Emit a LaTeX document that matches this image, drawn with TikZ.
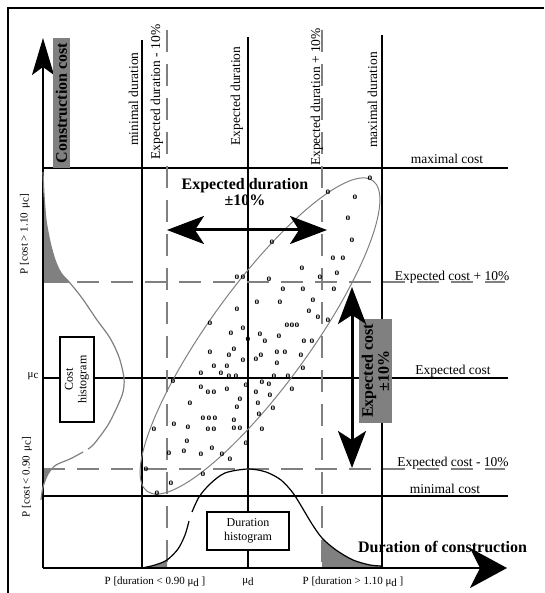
\documentclass[tikz,border=0pt]{standalone}
\usepackage{fontspec}
\setmainfont{Liberation Serif}
\usetikzlibrary{positioning,arrows.meta}
\tikzset{
  lbl/.style={font=\fontsize{13.5}{15}\selectfont, inner sep=0pt},
  small lbl/.style={font=\fontsize{11}{12}\selectfont, inner sep=0pt},
  big lbl/.style={font=\fontsize{16}{16}\selectfont\bfseries, inner sep=0pt},
  grid line/.style={line width=1.2pt},
  dash line/.style={gray, line width=1.2pt, dash pattern=on 22pt off 12pt},
  hist box/.style={draw, fill=white, line width=1.2pt, font=\fontsize{12}{13.5}\selectfont, align=center},
  dot/.style={font=\fontsize{9.5}{9.5}\selectfont\bfseries, inner sep=0pt},
  big arrow/.style={line width=3pt, {Stealth[length=37pt,width=28pt,inset=9pt]}-{Stealth[length=37pt,width=28pt,inset=9pt]}}
}
\begin{document}
\begin{tikzpicture}[x=1pt, y=-1pt]
  \useasboundingbox (0,0) rectangle (544,593);
  \draw[line width=2pt] (8,593) -- (8,8) -- (544,8);

  % tails of the two histograms
  \begin{scope}
    \clip (43,160) rectangle (120,282);
    \fill[gray] plot[smooth] coordinates {(43,172) (44,195) (46,220) (50,242) (55,260) (61,273) (70,283) (82,298)} -- (43,298) -- cycle;
  \end{scope}
  \begin{scope}
    \clip (43,469) rectangle (100,500);
    \fill[gray] plot[smooth] coordinates {(83,452) (70,459) (56,465) (48,474) (43,487) (41,500)} -- (43,452) -- cycle;
  \end{scope}
  \begin{scope}
    \clip (142,530) rectangle (167,570);
    \fill[gray] plot[smooth] coordinates {(142,568) (155,565) (167,560) (178,549) (185,535) (189,521)} -- (189,568) -- cycle;
  \end{scope}
  \begin{scope}
    \clip (322,460) rectangle (382,570);
    \fill[gray] plot[smooth] coordinates {(192,512) (199,497) (210,484) (225,473) (248,469) (266,472) (281,480) (293,493) (303,509) (312,524) (322,538) (336,550) (353,560) (370,565) (382,566)} -- (382,568) -- (192,568) -- cycle;
  \end{scope}

  % cost and duration levels
  \foreach \x/\top in {142/40, 248/37, 382/35}
    \draw[grid line] (\x,\top) -- (\x,568);
  \foreach \y in {168, 378, 496}
    \draw[grid line] (43,\y) -- (508,\y);
  \foreach \x in {167, 322}
    \draw[dash line] (\x,30) -- (\x,568);
  \foreach \y in {282, 469}
    \draw[dash line] (43,\y) -- (505,\y);

  % axes
  \coordinate (O) at (43,568);
  \coordinate (ytip) at (43,38);
  \coordinate (xtip) at (507,568);
  \draw[line width=1.5pt, -{Stealth[length=37pt,width=22pt,inset=8pt]}] (O) -- (ytip);
  \draw[line width=1.5pt, -{Stealth[length=37pt,width=40pt,inset=10pt]}] (O) -- (xtip);

  % histograms
  \draw[gray, line width=1.2pt] plot[smooth] coordinates {(43,172) (44,195) (46,220) (50,242) (55,260) (61,273) (70,283) (82,298) (97,320) (110,338) (119,357) (124,378) (123,392) (118,405) (108,425) (94,444) (88,449)};
  \draw[gray, line width=1.2pt] plot[smooth] coordinates {(83,452) (70,459) (56,465) (48,474) (43,487) (41,500)};
  \draw[line width=1.2pt] plot[smooth] coordinates {(142,568) (155,565) (167,560) (178,549) (185,535) (189,521)};
  \draw[line width=1.2pt] plot[smooth] coordinates {(192,512) (199,497) (210,484) (225,473) (248,469) (266,472) (281,480) (293,493) (303,509) (312,524) (322,538) (336,550) (353,560) (370,565) (382,566)};

  % scatter
  \draw[gray, line width=1pt, rotate around={54:(260,336)}] (260,336) ellipse [x radius=192, y radius=50];
  \foreach \p [count=\i] in {(370,178),(328,192),(355,197),(348,218),(352,240),(272,242),(333,258),(343,258),(302,268),(337,273),(320,277),(237,277),(243,277),(269,279),(283,289),(303,289),(334,289),
    (257,302),(280,302),(313,300),(237,309),(309,311),(318,317),(328,320),(210,323),(287,325),(292,325),(297,325),(243,328),(231,333),(260,334),(265,341),(248,339),(279,336),(304,341),(312,341),
    (210,352),(234,349),(229,355),(261,355),(256,359),(277,352),(285,352),(301,355),(243,360),(277,363),(214,366),(227,366),(303,368),(201,373),(221,373),(229,376),(236,376),(274,376),(288,376),
    (262,382),(269,384),(246,385),(173,381),(201,387),(208,392),(214,392),(227,389),(256,392),(270,395),(292,389),(240,399),(237,407),(258,403),(190,403),(273,408),(259,414),(203,418),(209,418),(215,418),
    (234,420),(234,428),(240,428),(174,424),(188,427),(154,429),(208,429),(214,429),(262,429),(187,441),(246,443),(169,453),(184,451),(201,454),(212,448),(222,454),(230,459),(146,469),(203,474),(171,483),(157,493)}
    \node[dot] (o\i) at \p {o};

  % labels
  \node[lbl, anchor=base] (maxcost) at (447,164) {maximal cost};
  \node[lbl, anchor=base] (expcostp) at (452,280) {Expected cost + 10\%};
  \node[lbl, anchor=base] (expcost) at (453,374) {Expected cost};
  \node[lbl, anchor=base] (expcostm) at (453,466) {Expected cost - 10\%};
  \node[lbl, anchor=base] (mincost) at (445,493) {minimal cost};
  \node[lbl, rotate=90, anchor=base] (mindur) at (138,99) {minimal duration};
  \node[lbl, rotate=90, anchor=base] (expdurm) at (160,92) {Expected duration - 10\%};
  \node[lbl, rotate=90, anchor=base] (expdur) at (240,96) {Expected duration};
  \node[lbl, rotate=90, anchor=base] (expdurp) at (320,97) {Expected duration + 10\%};
  \node[lbl, rotate=90, anchor=base] (maxdur) at (377,100) {maximal duration};

  \node[small lbl] (muc) at (33,376) {μ\raisebox{-1pt}{c}};
  \node[small lbl, rotate=90] (pcosthigh) at (25,234) {P [cost > 1.10 \,μ\raisebox{-1pt}{c}]};
  \node[small lbl, rotate=90] (pcostlow) at (27,477) {P [cost < 0.90 \,μ\raisebox{-1pt}{c}]};
  \node[small lbl] (pdurlow) at (155,582) {P [duration < 0.90 μ\raisebox{-2pt}{d} ]};
  \node[small lbl] (mud) at (248,582) {μ\raisebox{-2pt}{d}};
  \node[small lbl] (pdurhigh) at (353,582) {P [duration > 1.10 μ\raisebox{-2pt}{d} ]};

  \node[hist box, minimum width=82pt, minimum height=38pt] (durhist) at (248,531) {Duration\\histogram};
  \node[hist box, rotate=90, minimum width=85pt, minimum height=34pt] (costhist) at (77,379.5) {Cost\\histogram};

  \node[big lbl, fill=gray, rotate=90, minimum width=130pt, minimum height=17pt] (ylabel) at (61.5,103) {Construction cost};
  \node[big lbl, anchor=base] (xlabel) at (442.5,552) {Duration of construction};
  \node[big lbl, align=center] (durband) at (245,192) {Expected duration\\±10\%};
  \node[big lbl, fill=gray, rotate=90, align=center, minimum width=104pt, minimum height=33pt] (costband) at (375.5,371) {Expected cost\\±10\%};

  % tolerance arrows
  \coordinate (dl) at (167,230);
  \coordinate (dr) at (327,230);
  \coordinate (ct) at (352,287);
  \coordinate (cb) at (352,468);
  \draw[big arrow] (dl) -- (dr);
  \draw[big arrow] (ct) -- (cb);
\end{tikzpicture}
\end{document}
